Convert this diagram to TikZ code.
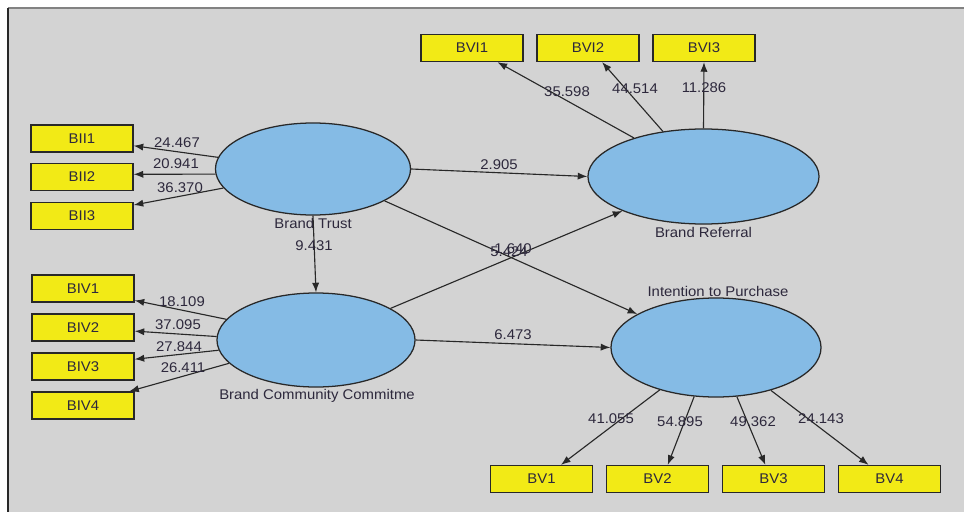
\documentclass[tikz,border=0pt]{standalone}
\usepackage{fontspec}
\setmainfont[FakeStretch=1.06]{Liberation Sans}
\usetikzlibrary{shapes.geometric,arrows.meta}
\definecolor{bg}{RGB}{211,211,211}
\definecolor{boxy}{RGB}{242,234,22}
\definecolor{ellb}{RGB}{133,187,229}
\definecolor{txt}{RGB}{45,40,60}
\definecolor{edgec}{RGB}{40,40,40}
\definecolor{topline}{RGB}{130,130,130}
\begin{document}
\begin{tikzpicture}[x=0.025cm,y=-0.025cm,
  ind/.style={draw=edgec, line width=0.9pt, fill=boxy, minimum width=2.55cm, minimum height=0.675cm, inner sep=0pt, font=\fontsize{10}{12}\selectfont, text=txt},
  lat/.style={ellipse, draw=edgec, line width=0.9pt, fill=ellb, inner sep=0pt},
  lbl/.style={font=\fontsize{10}{12}\selectfont, text=txt, inner sep=0pt},
  arr/.style={draw=edgec, line width=0.8pt, -{Latex[length=2.4mm,width=1.8mm]}}]
\useasboundingbox (0,0) rectangle (964,512);
\fill[white] (0,0) rectangle (964,512);
\fill[bg] (8,8) rectangle (964,512);
\draw[topline, line width=1.2pt] (8,8) -- (964,8);
\draw[edgec, line width=1.2pt] (8,8) -- (8,512);

% latent variables
\node[lat, minimum width=4.875cm, minimum height=2.3cm] (BT) at (313,169) {};
\node[lat, minimum width=4.95cm, minimum height=2.35cm] (BCC) at (316,340) {};
\node[lat, minimum width=5.775cm, minimum height=2.375cm] (BR) at (703.5,176.5) {};
\node[lat, minimum width=5.25cm, minimum height=2.475cm] (IP) at (716,347.5) {};

\node[lbl] (tBT) at (313,223) {Brand Trust};
\node[lbl] (tBCC) at (317,396) {Brand Community Commitme};
\node[lbl] (tBR) at (703.5,232) {Brand Referral};
\node[lbl] (tIP) at (718,291) {Intention to Purchase};

% indicators
\node[ind] (BII1) at (82,138.5) {BII1};
\node[ind] (BII2) at (82,177) {BII2};
\node[ind] (BII3) at (82,216) {BII3};
\node[ind] (BIV1) at (83,288.5) {BIV1};
\node[ind] (BIV2) at (83,327.5) {BIV2};
\node[ind] (BIV3) at (83,366.5) {BIV3};
\node[ind] (BIV4) at (83,405.5) {BIV4};
\node[ind] (BVI1) at (472,48) {BVI1};
\node[ind] (BVI2) at (588,48) {BVI2};
\node[ind] (BVI3) at (704,48) {BVI3};
\node[ind] (BV1) at (541.5,479) {BV1};
\node[ind] (BV2) at (657.5,479) {BV2};
\node[ind] (BV3) at (773.5,479) {BV3};
\node[ind] (BV4) at (889.5,479) {BV4};

% outer model arrows
\draw[arr] (BT.173) -- (BII1.-8);
\draw[arr] (BT.183) -- (BII2.3);
\draw[arr] (BT.192) -- (BII3.12);
\draw[arr] (BCC.167.5) -- (BIV1.-13);
\draw[arr] (BCC.178) -- (BIV2.-4);
\draw[arr] (BCC.186.5) -- (BIV3.8);
\draw[arr] (BCC.195) -- (BIV4.17);
\draw[arr] (BR.151) -- (BVI1.-29);
\draw[arr] (BR.132) -- (BVI2.-45);
\draw[arr] (BR.north) -- (BVI3.south);
\draw[arr] (IP.217) -- (BV1.36);
\draw[arr] (IP.246) -- (BV2.54);
\draw[arr] (IP.293) -- (BV3.120);
\draw[arr] (IP.-38) -- (BV4.146);

% inner model arrows
\draw[arr] (BT.south) -- (BCC.north);
\draw[arr] (BT.east) -- (BR.west);
\draw[arr] (BT.-24) -- (IP.157);
\draw[arr] (BCC.23) -- (BR.203);
\draw[arr] (BCC.east) -- (IP.west);

% path coefficients / t-values
\node[lbl] (l1) at (177,143) {24.467};
\node[lbl] (l2) at (176,164) {20.941};
\node[lbl] (l3) at (180,188) {36.370};
\node[lbl] (l4) at (314,246) {9.431};
\node[lbl] (l5) at (182,302) {18.109};
\node[lbl] (l6) at (178,325) {37.095};
\node[lbl] (l7) at (179,347) {27.844};
\node[lbl] (l8) at (183,368) {26.411};
\node[lbl] (l9) at (567,92) {35.598};
\node[lbl] (l10) at (635,89) {44.514};
\node[lbl] (l11) at (704,88) {11.286};
\node[lbl] (l12) at (499,165) {2.905};
\node[lbl] (l13) at (513,335) {6.473};
\node[lbl] (l14) at (509,252) {5.424};
\node[lbl] (l15) at (513,249) {1.640};
\node[lbl] (l16) at (611,419) {41.055};
\node[lbl] (l17) at (680,422) {54.895};
\node[lbl] (l18) at (753,422) {49.362};
\node[lbl] (l19) at (821,419) {24.143};
\end{tikzpicture}
\end{document}
